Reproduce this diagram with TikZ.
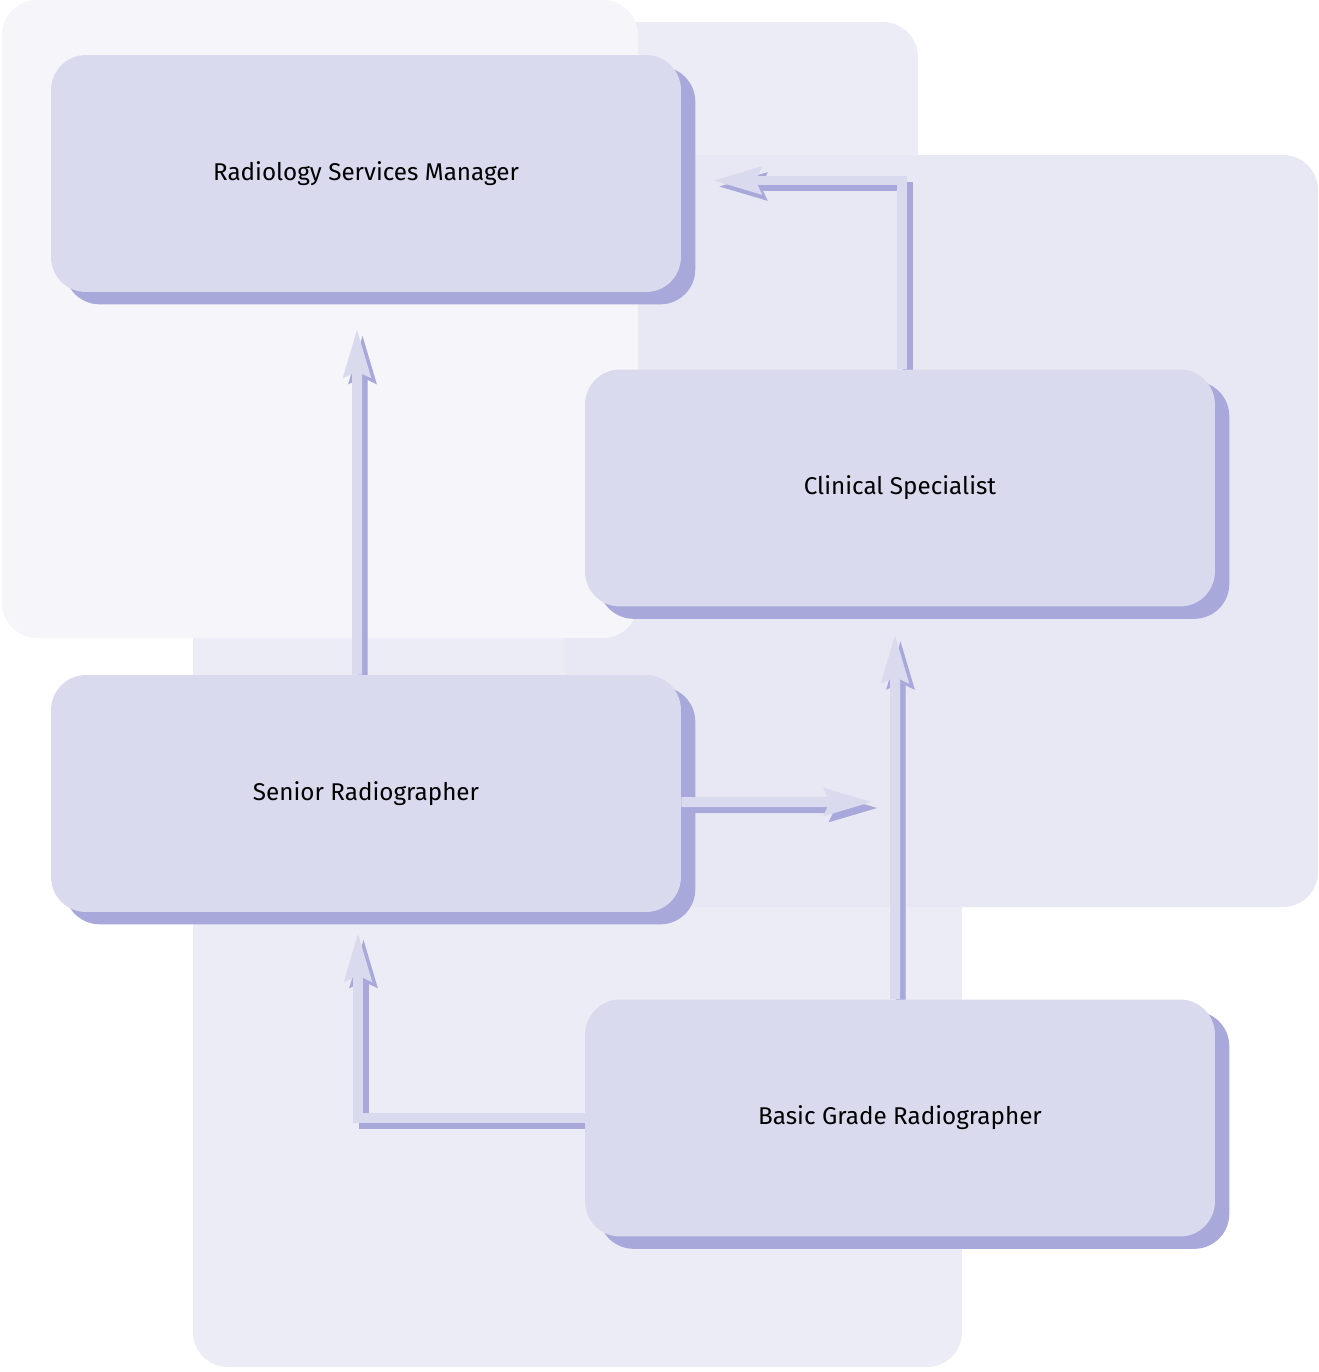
\documentclass[tikz,border=0pt]{standalone}
\usepackage{fontspec}
\setmainfont{Fira Sans}
\usetikzlibrary{arrows.meta}

\definecolor{panelA}{HTML}{F5F5FA}
\definecolor{panelB}{HTML}{ECECF6}
\definecolor{panelD}{HTML}{E8E8F4}
\definecolor{boxfill}{HTML}{DADAEE}
\definecolor{boxshade}{HTML}{A8A8DA}

\pgfdeclarelayer{panels}
\pgfdeclarelayer{shades}
\pgfdeclarelayer{links}
\pgfsetlayers{panels,shades,links,main}

\tikzset{
  role/.style={rectangle, rounded corners=0.7cm, fill=boxfill, minimum width=12.6cm,
    minimum height=4.74cm, inner sep=0pt, font=\fontsize{13.8}{16}\selectfont},
  tip/.style={-{Stealth[length=0.96cm,width=0.52cm,inset=0.1cm]}},
  linkshade/.style={tip, draw=boxshade, line width=0.2cm,
    transform canvas={xshift=0.11cm,yshift=-0.12cm}},
  link/.style={tip, draw=boxfill, line width=0.2cm}
}

\newcommand{\linkpath}[1]{%
  \draw[linkshade] #1;
  \draw[link] #1;
}

\begin{document}
\begin{tikzpicture}[x=0.02cm, y=-0.02cm]
\useasboundingbox (0,0) rectangle (1318,1372);

\begin{pgfonlayer}{panels}
\fill[panelB, rounded corners=0.7cm] (193,500) rectangle (962,1367);
\fill[panelB, rounded corners=0.7cm] (300,22) rectangle (918,700);
\fill[panelD, rounded corners=0.7cm] (565,155) rectangle (1318,907);
\fill[panelA, rounded corners=0.7cm] (2,0) rectangle (638,638);
\end{pgfonlayer}

\node[role] (rsm) at (366,173.5) {Radiology Services Manager};
\node[role] (clin) at (900,488) {Clinical Specialist};
\node[role] (senior) at (366,793.5) {Senior Radiographer};
\node[role] (basic) at (900,1118) {Basic Grade Radiographer};
\coordinate (merge) at (873,802);

\begin{pgfonlayer}{shades}
\foreach \n in {rsm,clin,senior,basic}
  \fill[boxshade, rounded corners=0.7cm] ([shift={(14,12)}]\n.south west) rectangle ([shift={(14,12)}]\n.north east);
\end{pgfonlayer}

\begin{pgfonlayer}{links}
\linkpath{([xshift=-0.18cm]senior.north) -- ([shift={(-9,36)}]rsm.south)}
\linkpath{([xshift=0.04cm]clin.north) |- ([shift={(31,7)}]rsm.east)}
\linkpath{([xshift=-0.1cm]basic.north) -- ([shift={(-5,27)}]clin.south)}
\linkpath{([yshift=-0.17cm]senior.east) -- (merge)}
\linkpath{(basic.west) -| ([shift={(-8,20)}]senior.south)}
\end{pgfonlayer}
\end{tikzpicture}
\end{document}
